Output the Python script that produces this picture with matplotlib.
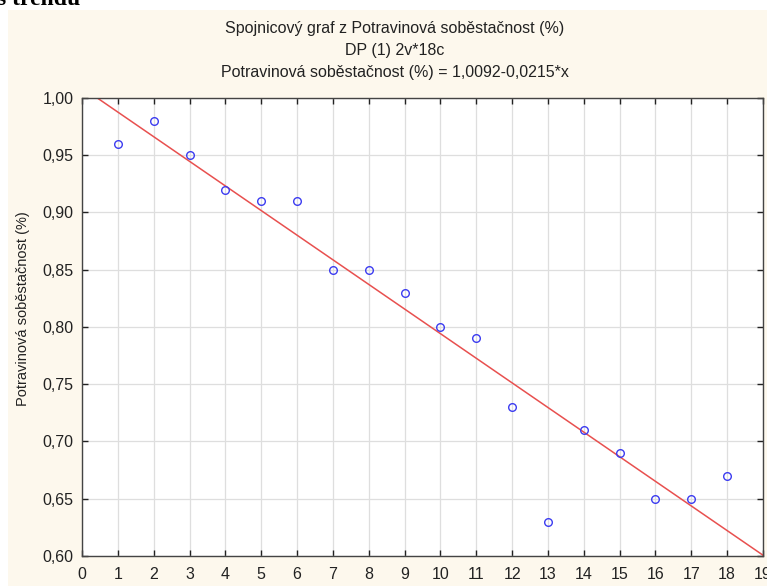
import numpy as np
import matplotlib.pyplot as plt
from matplotlib.patches import Rectangle
from matplotlib.ticker import FuncFormatter, MultipleLocator

plt.rcParams['font.family'] = ['Liberation Sans', 'DejaVu Sans']

# rok (poradi) a potravinova sobestacnost
x = [1, 2, 3, 4, 5, 6, 7, 8, 9, 10, 11, 12, 13, 14, 15, 16, 17, 18]
y = [0.96, 0.98, 0.95, 0.92, 0.91, 0.91, 0.85, 0.85, 0.83, 0.80,
     0.79, 0.73, 0.63, 0.71, 0.69, 0.65, 0.65, 0.67]

# koeficienty linearniho trendu
b0 = 1.0092
b1 = -0.0215

title_lines = ["Spojnicový graf z Potravinová soběstačnost (%)",
               "DP (1) 2v*18c",
               "Potravinová soběstačnost (%) = 1,0092-0,0215*x"]
ylabel = "Potravinová soběstačnost (%)"

fig = plt.figure(figsize=(7.67, 5.86), dpi=100)
fig.patch.set_facecolor('white')

# kremovy podklad grafu
fig.patches.append(Rectangle((8 / 767, 0), 1, 1 - 10 / 586, transform=fig.transFigure,
                             facecolor='#fdf8ed', edgecolor='none', zorder=-10))

# kus nadpisu z dokumentu nad grafem
fig.text(-0.004, 1 - 5 / 586, "s trendu", fontsize=17, fontweight='bold',
         family='Liberation Serif', va='baseline', ha='left')

ax = fig.add_axes([82 / 767, 1 - 556 / 586, (763 - 82) / 767, (556 - 98) / 586])
ax.set_facecolor('white')

xs = np.array([0, 19])
ax.plot(xs, b0 + b1 * xs, color='#e8504f', lw=1.1, zorder=2)
ax.plot(x, y, 'o', mfc='none', mec='#3c3cf0', ms=5.5, mew=1.0, zorder=3)

ax.set_xlim(0, 19)
ax.set_ylim(0.60, 1.00)
ax.xaxis.set_major_locator(MultipleLocator(1))
ax.yaxis.set_major_locator(MultipleLocator(0.05))
ax.yaxis.set_major_formatter(FuncFormatter(lambda v, p: f"{v:.2f}".replace('.', ',')))

ax.grid(True, color='#dedede', lw=0.9)
ax.set_axisbelow(True)
ax.tick_params(direction='in', length=4, width=1, top=True, right=True,
               labelsize=11.5, colors='#222222')
ax.tick_params(axis='x', pad=8)
ax.tick_params(axis='y', pad=6)
for s in ax.spines.values():
    s.set_color('#444444')
    s.set_linewidth(1.0)

ax.set_ylabel(ylabel, fontsize=10.5, color='#222222')
ax.yaxis.set_label_coords(-0.077, 0.54)

for i, t in enumerate(title_lines):
    fig.text(0.515, 1 - (28 + 22 * i) / 586, t, fontsize=11.5, color='#222222',
             ha='center', va='center')

fig.savefig('out.png', dpi=100)
